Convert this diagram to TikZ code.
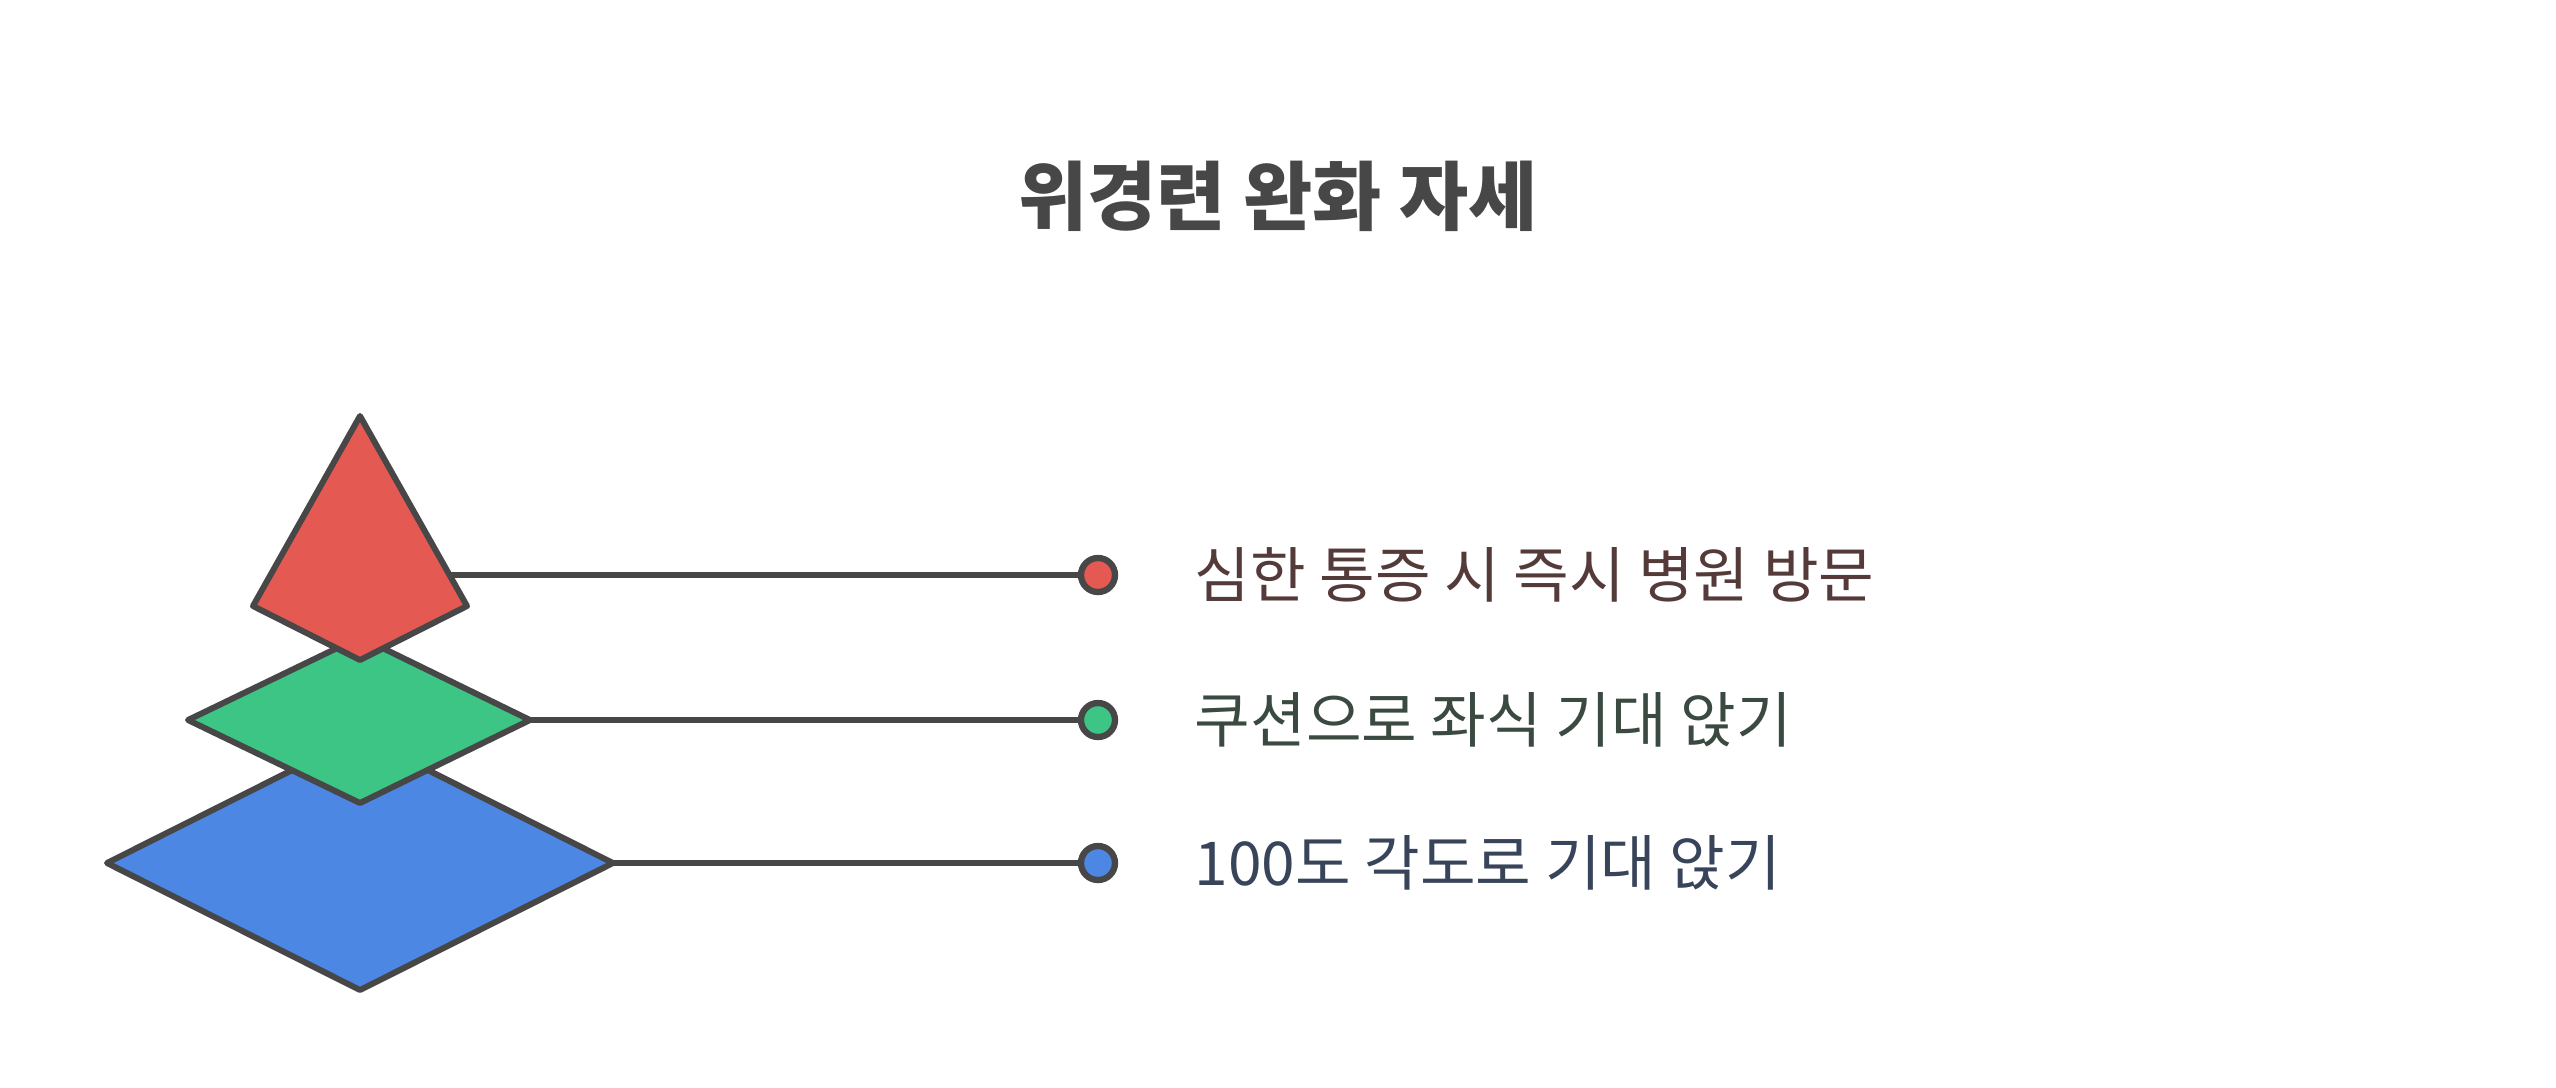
\documentclass[tikz,border=0pt]{standalone}
\usepackage{fontspec}
\setmainfont{Noto Sans CJK KR}
\usepackage{xcolor}
\usepackage{tikz}
\usetikzlibrary{positioning}
\definecolor{edgegray}{HTML}{474747}
\definecolor{topred}{HTML}{E55953}
\definecolor{midgreen}{HTML}{3DC585}
\definecolor{basblue}{HTML}{4D87E4}
\definecolor{txtred}{HTML}{553A3A}
\definecolor{txtgreen}{HTML}{3A4A40}
\definecolor{txtblue}{HTML}{38445A}
\tikzset{layer/.style = {draw=edgegray, line width=1.7pt, line join=round}}

\begin{document}
\begin{tikzpicture}[node distance=0.76cm,
    link/.style={draw=edgegray, line width=1.5pt},
    dot/.style={circle, draw=edgegray, line width=1.8pt, minimum size=0.34cm, inner sep=0pt},
    item/.style={anchor=west, inner sep=0pt, font=\fontsize{17.2}{20}\selectfont}]
    \useasboundingbox (0,0) rectangle (25.56,-10.87);

    % title
    \node[font=\bfseries\fontsize{21.4}{25}\selectfont, text=edgegray] (title) at (12.78,-1.96) {위경련 완화 자세};

    % corners of the three layers
    \coordinate (red-t) at (3.60,-4.16);
    \coordinate (red-l) at (2.53,-6.06);
    \coordinate (red-r) at (4.67,-6.06);
    \coordinate (red-b) at (3.60,-6.60);
    \coordinate (red-c) at (3.60,-5.75);
    \coordinate (grn-t) at (3.60,-6.37);
    \coordinate (grn-l) at (1.88,-7.20);
    \coordinate (grn-r) at (5.30,-7.20);
    \coordinate (grn-b) at (3.60,-8.03);
    \coordinate (blu-t) at (3.60,-7.36);
    \coordinate (blu-l) at (1.07,-8.63);
    \coordinate (blu-r) at (6.13,-8.63);
    \coordinate (blu-b) at (3.60,-9.90);

    % end dots
    \node[dot, fill=topred] (red-dot) at (10.98,-5.75) {};
    \node[dot, fill=midgreen] (grn-dot) at (10.98,-7.20) {};
    \node[dot, fill=basblue] (blu-dot) at (10.98,-8.63) {};

    % connectors (behind the layers)
    \path[link]
        (red-c) edge (red-dot.west)
        (grn-r) edge (grn-dot.west)
        (blu-r) edge (blu-dot.west)
        ;

    % layers, bottom to top
    \draw[layer, fill=basblue] (blu-t) -- (blu-r) -- (blu-b) -- (blu-l) -- cycle;
    \draw[layer, fill=midgreen] (grn-t) -- (grn-r) -- (grn-b) -- (grn-l) -- cycle;
    \draw[layer, fill=topred] (red-t) -- (red-r) -- (red-b) -- (red-l) -- cycle;

    % labels
    \node[item, text=txtred] (red-txt) [right=of red-dot] {심한 통증 시 즉시 병원 방문};
    \node[item, text=txtgreen] (grn-txt) [right=of grn-dot] {쿠션으로 좌식 기대 앉기};
    \node[item, text=txtblue] (blu-txt) [right=of blu-dot] {100도 각도로 기대 앉기};
\end{tikzpicture}
\end{document}
